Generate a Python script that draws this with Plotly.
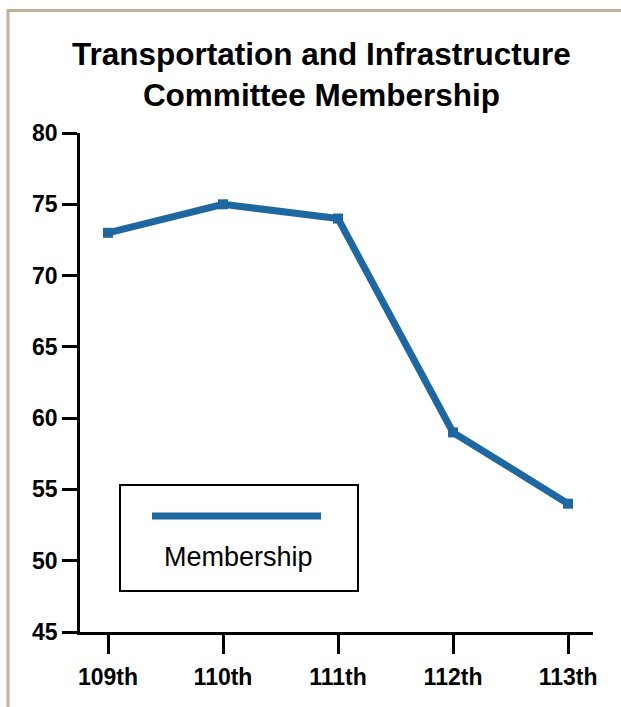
import plotly.graph_objects as go

congress = ["109th", "110th", "111th", "112th", "113th"]
membership = [73, 75, 74, 59, 54]
y_ticks = [45, 50, 55, 60, 65, 70, 75, 80]

LINE_COLOR = "#1f67a0"
FONT = "Liberation Sans, Arial, Helvetica, sans-serif"
BORDER = "#bdb29c"

W, H = 621, 707
ML, MR, MT, MB = 80, 28, 133, 75
PW, PH = W - ML - MR, H - MT - MB


def px_x(px):
    return (px - ML) / PW


def px_y(py):
    return (H - MB - py) / PH


fig = go.Figure()
fig.add_trace(go.Scatter(
    x=congress, y=membership, mode="lines+markers",
    line=dict(color=LINE_COLOR, width=7),
    marker=dict(symbol="square", size=10, color=LINE_COLOR),
    name="Membership", showlegend=False, hoverinfo="x+y",
))

shapes = [
    # frame (top and left edges)
    dict(type="line", xref="paper", yref="paper", x0=px_x(8), x1=px_x(W + 5),
         y0=px_y(10.5), y1=px_y(10.5), line=dict(color=BORDER, width=3)),
    dict(type="line", xref="paper", yref="paper", x0=px_x(8), x1=px_x(8),
         y0=px_y(9), y1=px_y(H + 5), line=dict(color=BORDER, width=3)),
    # legend box
    dict(type="rect", xref="paper", yref="paper", x0=px_x(120), x1=px_x(358),
         y0=px_y(591), y1=px_y(485), line=dict(color="black", width=2),
         fillcolor="white"),
    dict(type="line", xref="paper", yref="paper", x0=px_x(152), x1=px_x(321),
         y0=px_y(516), y1=px_y(516), line=dict(color=LINE_COLOR, width=7)),
]

annotations = [
    dict(text="Transportation and Infrastructure<br>Committee Membership",
         xref="paper", yref="paper", x=px_x(321), y=px_y(74),
         xanchor="center", yanchor="middle", showarrow=False,
         font=dict(family=FONT, size=31.5, color="black", weight="bold")),
    dict(text="Membership", xref="paper", yref="paper", x=px_x(238), y=px_y(557),
         xanchor="center", yanchor="middle", showarrow=False,
         font=dict(family=FONT, size=27, color="black")),
]

fig.update_layout(
    width=W, height=H,
    margin=dict(l=ML, r=MR, t=MT, b=MB, pad=0),
    paper_bgcolor="white", plot_bgcolor="white",
    shapes=shapes,
    annotations=annotations,
    showlegend=False,
)

fig.update_xaxes(
    type="category", range=[-0.2435, 4.217],
    showline=True, linecolor="black", linewidth=2.5,
    ticks="outside", ticklen=19, tickwidth=2.5, tickcolor="black",
    ticklabelstandoff=4,
    showgrid=False, zeroline=False,
    tickfont=dict(family=FONT, size=23, color="black", weight="bold"),
)
fig.update_yaxes(
    range=[45, 80], tickvals=y_ticks, ticktext=[str(v) for v in y_ticks],
    showline=True, linecolor="black", linewidth=2.5,
    ticks="outside", ticklen=15, tickwidth=2.5, tickcolor="black",
    showgrid=False, zeroline=False,
    tickfont=dict(family=FONT, size=23, color="black", weight="bold"),
)

fig.write_html(
    "out.html",
    config={"displayModeBar": False},
    post_script="document.body.style.margin='0';document.body.style.padding='0';",
)
